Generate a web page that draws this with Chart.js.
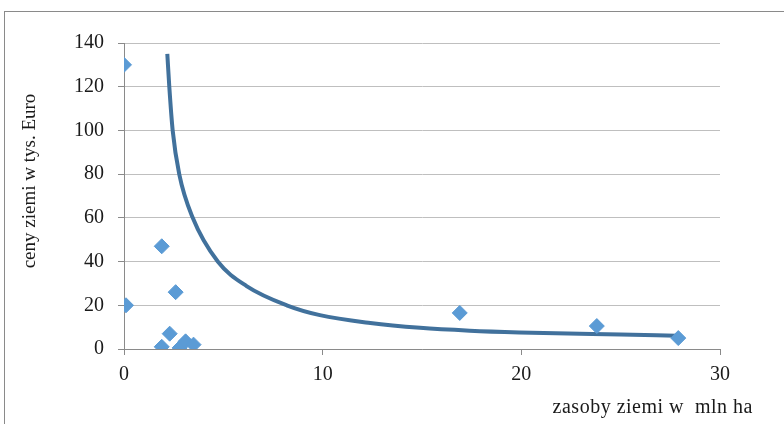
<!DOCTYPE html>
<html>
<head>
<meta charset="utf-8">
<script src="https://cdn.jsdelivr.net/npm/chart.js@4/dist/chart.umd.min.js"></script>
<style>
  html, body { margin: 0; padding: 0; background: #ffffff; }
  #wrap { width: 784px; height: 424px; }
</style>
</head>
<body>
<div id="wrap"><canvas id="c" width="784" height="424"></canvas></div>
<script>
// Land resources (million ha) vs. land prices (thousand EUR)
const landArea  = [0, 0.1, 1.9, 1.9, 2.3, 2.6, 2.8, 3.1, 3.5, 16.9, 23.8, 27.9];
const landPrice = [130, 20, 47, 1, 7, 26, 0.5, 3.5, 2, 16.5, 10.5, 5];

// Trend curve, sampled along its course
const trendX = [2.18, 2.28, 2.45, 2.78, 3.46, 4.72, 6.17, 8.19, 9.86, 12.4, 14.9, 17.4, 19.9, 25.0, 27.8];
const trendY = [135, 120, 100, 80, 60, 40, 28.8, 20, 15.5, 11.9, 9.7, 8.4, 7.6, 6.6, 6.1];

// Axis ticks
const xTicks = [0, 10, 20, 30];
const yTicks = [0, 20, 40, 60, 80, 100, 120, 140];

const xTitle = 'zasoby ziemi w  mln ha';
const yTitle = 'ceny ziemi w tys. Euro';

const FONT = '"Liberation Serif", "Times New Roman", serif';

const frame = {
  id: 'frame',
  beforeDraw(chart) {
    const ctx = chart.ctx;
    ctx.save();
    ctx.fillStyle = '#ffffff';
    ctx.fillRect(0, 0, chart.width, chart.height);
    ctx.strokeStyle = '#8a8a8a';
    ctx.lineWidth = 1;
    ctx.strokeRect(4.5, 11.5, chart.width + 20, chart.height + 20);
    ctx.restore();
  },
  afterDraw(chart) {
    const ctx = chart.ctx;
    ctx.save();
    ctx.fillStyle = '#1a1a1a';
    ctx.font = '20px ' + FONT;
    ctx.letterSpacing = '0.5px';
    ctx.textAlign = 'right';
    ctx.textBaseline = 'middle';
    ctx.fillText(xTitle, 753, 408);
    ctx.letterSpacing = '0px';
    ctx.font = '19px ' + FONT;
    ctx.translate(30, 181);
    ctx.rotate(-Math.PI / 2);
    ctx.textAlign = 'center';
    ctx.fillText(yTitle, 0, 0);
    ctx.restore();
  }
};

new Chart(document.getElementById('c'), {
  type: 'scatter',
  data: {
    datasets: [
      {
        label: 'ceny',
        data: landArea.map((x, i) => ({ x: x, y: landPrice[i] })),
        pointStyle: 'rectRot',
        pointRadius: 7.5,
        pointHoverRadius: 7.5,
        backgroundColor: '#5b9bd5',
        borderColor: '#5b9bd5',
        borderWidth: 1,
        order: 1
      },
      {
        label: 'trend',
        data: trendX.map((x, i) => ({ x: x, y: trendY[i] })),
        showLine: true,
        pointRadius: 0,
        pointHoverRadius: 0,
        borderColor: '#41719c',
        borderWidth: 4,
        cubicInterpolationMode: 'monotone',
        fill: false,
        order: 2
      }
    ]
  },
  options: {
    responsive: false,
    animation: false,
    devicePixelRatio: 1,
    layout: { padding: { left: 0, right: 64, top: 43, bottom: 35 } },
    plugins: {
      legend: { display: false },
      tooltip: { enabled: false },
      title: { display: false }
    },
    scales: {
      x: {
        type: 'linear',
        min: 0,
        max: 30,
        afterBuildTicks(scale) { scale.ticks = xTicks.map(v => ({ value: v })); },
        afterFit(scale) { scale.height = 40; },
        ticks: {
          font: { family: FONT, size: 20 },
          color: '#1a1a1a',
          padding: 8,
          maxRotation: 0
        },
        grid: {
          drawOnChartArea: false,
          drawTicks: true,
          tickLength: 6,
          tickColor: '#8a8a8a'
        },
        border: { display: true, color: '#8a8a8a', width: 1 }
      },
      y: {
        type: 'linear',
        min: 0,
        max: 140,
        afterBuildTicks(scale) { scale.ticks = yTicks.map(v => ({ value: v })); },
        afterFit(scale) { scale.width = 124; },
        ticks: {
          font: { family: FONT, size: 20 },
          color: '#1a1a1a',
          padding: 14
        },
        grid: {
          color: '#bfbfbf',
          lineWidth: 1,
          drawTicks: true,
          tickLength: 6,
          tickColor: '#8a8a8a'
        },
        border: { display: true, color: '#8a8a8a', width: 1 }
      }
    }
  },
  plugins: [frame]
});
</script>
</body>
</html>
